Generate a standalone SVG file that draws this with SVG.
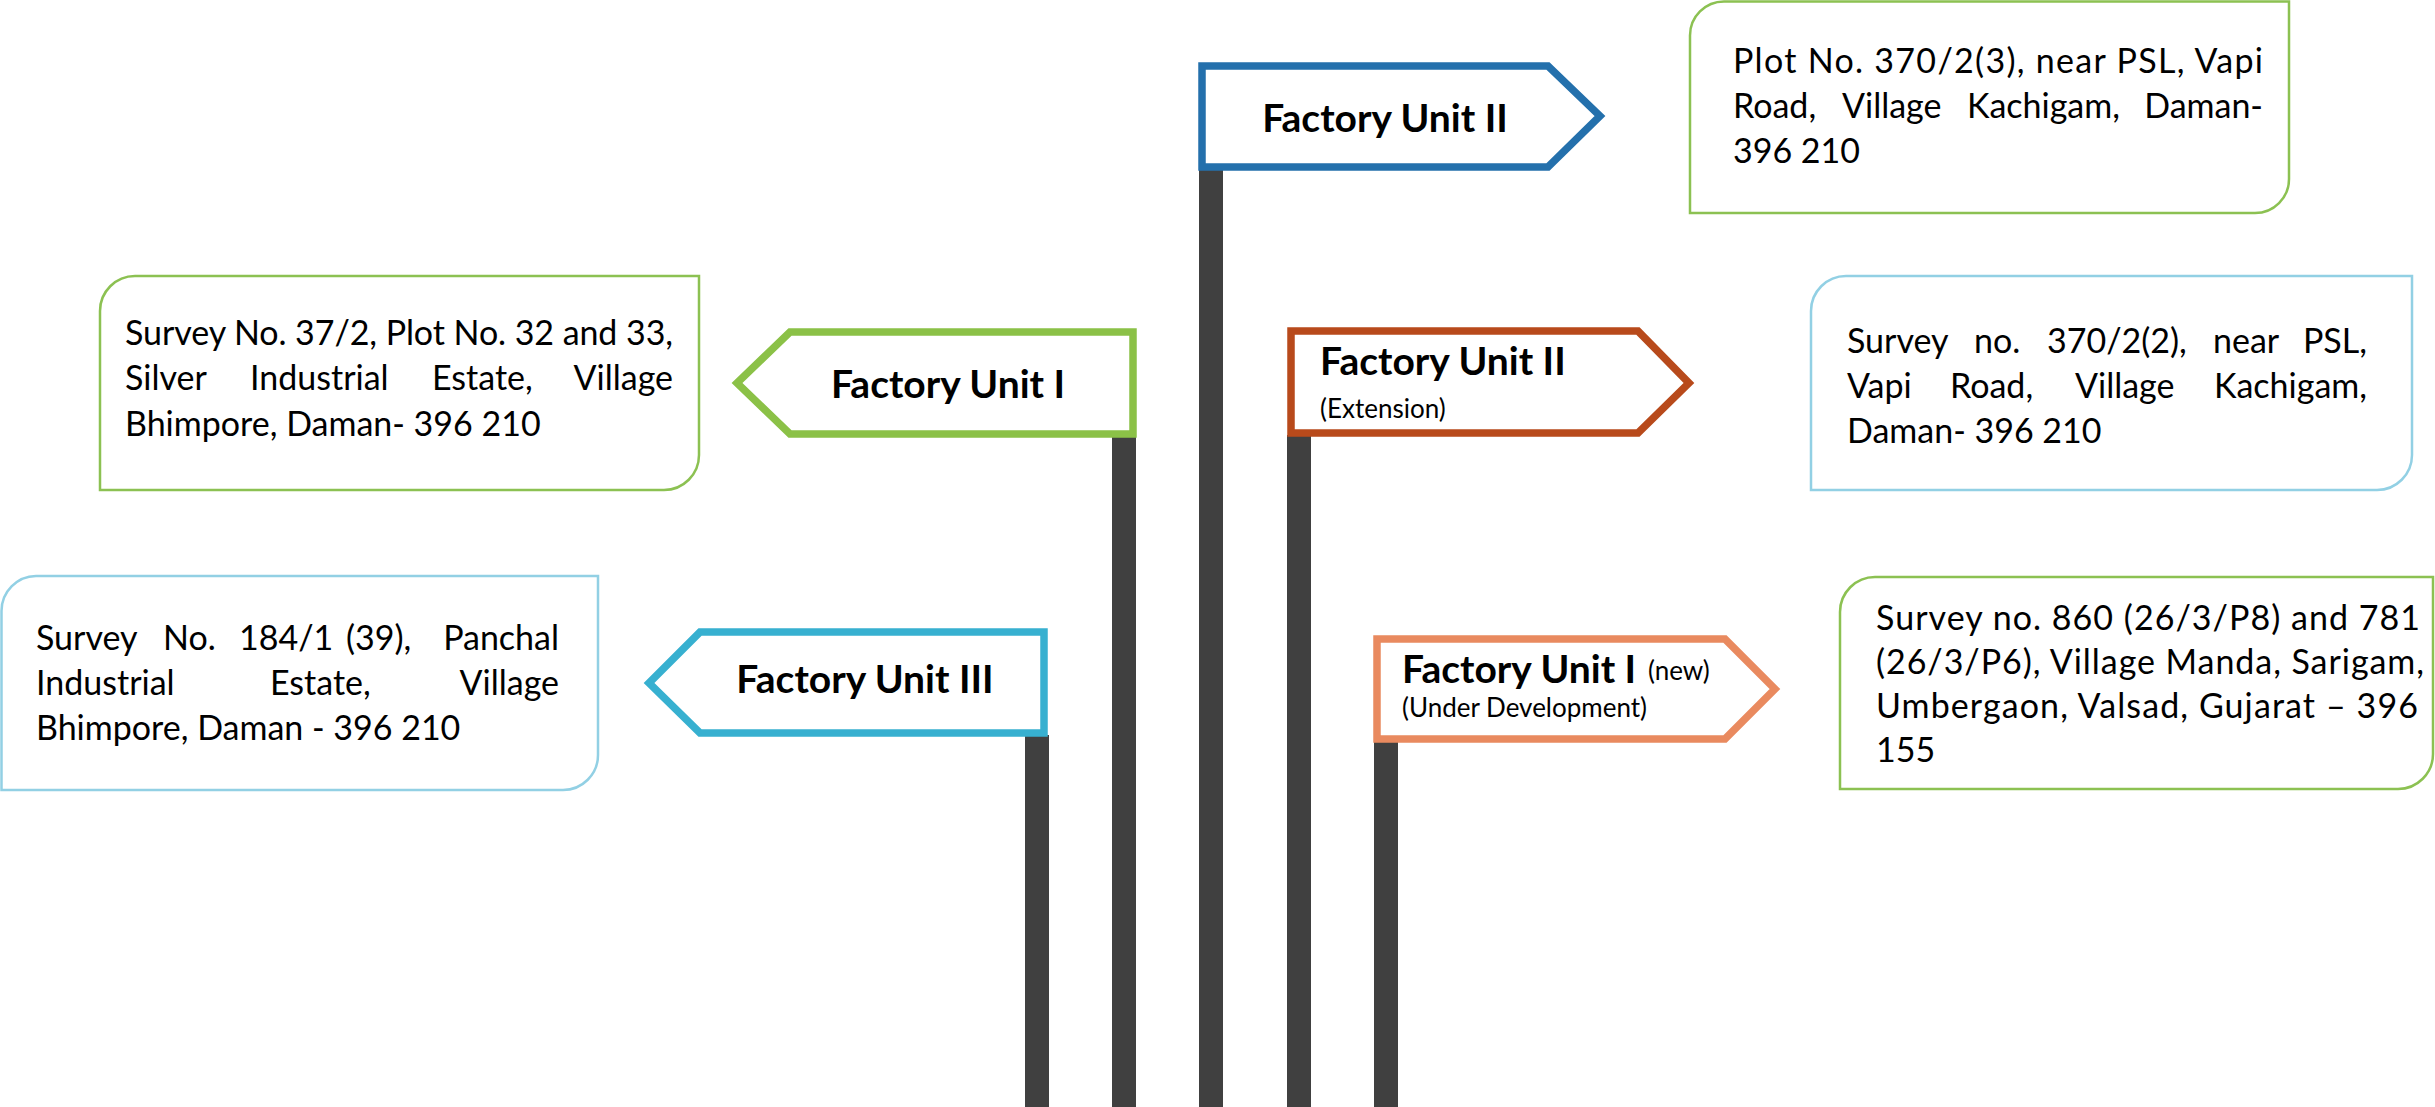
<svg xmlns="http://www.w3.org/2000/svg" width="2435" height="1107" viewBox="0 0 2435 1107">
<style>
.pole{fill:#404040}
.sign{fill:#fff;stroke-width:7.5;stroke-linejoin:miter}
.lbl{font-family:Lato,"Liberation Sans",sans-serif;font-weight:bold;font-size:39px;fill:#000}
.sub{font-family:Lato,"Liberation Sans",sans-serif;font-size:26px;fill:#000}
.box{fill:#fff;stroke-width:2.5}
.g{stroke:#8CC152}
.c{stroke:#92D0E4}
.addr{font-family:Lato,"Liberation Sans",sans-serif;font-size:34px;fill:#000}
.e{text-anchor:end}
</style>
<rect width="2435" height="1107" fill="#fff"/>
<g id="poles">
<rect class="pole" x="1025" y="735" width="24" height="372"/>
<rect class="pole" x="1112" y="436" width="24" height="671"/>
<rect class="pole" x="1199" y="168" width="24" height="939"/>
<rect class="pole" x="1287" y="435" width="24" height="672"/>
<rect class="pole" x="1374" y="741" width="24" height="366"/>
</g>
<g id="unit2">
<polygon class="sign" stroke="#2470AC" points="1202,66 1548,66 1600,116 1548,167 1202,167"/>
<text class="lbl" x="1385" y="132" text-anchor="middle">Factory Unit II</text>
</g>
<g id="unit1">
<polygon class="sign" stroke="#8BC147" points="1133,332 790,332 737,383 790,434 1133,434"/>
<text class="lbl" x="948" y="398" text-anchor="middle">Factory Unit I</text>
</g>
<g id="unit2ext">
<polygon class="sign" stroke="#B84A1B" points="1291,331 1638,331 1689,383 1638,433 1291,433"/>
<text class="lbl" x="1320" y="375">Factory Unit II</text>
<text class="sub" x="1320" y="418">(Extension)</text>
</g>
<g id="unit3">
<polygon class="sign" stroke="#37B0D0" points="1044,632 700,632 649,683 700,733 1044,733"/>
<text class="lbl" x="865" y="693" text-anchor="middle">Factory Unit III</text>
</g>
<g id="unit1new">
<polygon class="sign" stroke="#E98A5F" points="1377,639 1725,639 1775,689 1725,739 1377,739"/>
<text class="lbl" x="1402" y="683">Factory Unit I</text>
<text class="sub" x="1648" y="680">(new)</text>
<text class="sub" x="1402" y="717">(Under Development)</text>
</g>
<g id="addr-unit2">
<path class="box g" d="M1724,1.5 H2289 V179 A34,34 0 0 1 2255,213 H1690 V35.5 A34,34 0 0 1 1724,1.5 Z"/>
<text class="addr" x="1733" y="73" textLength="530" lengthAdjust="spacing">Plot No. 370/2(3), near PSL, Vapi</text>
<text class="addr" y="118"><tspan x="1733">Road,</tspan><tspan x="1842">Village</tspan><tspan x="1967">Kachigam,</tspan></text>
<text class="addr e" x="2263" y="118">Daman-</text>
<text class="addr" x="1733" y="163">396 210</text>
</g>
<g id="addr-unit1">
<path class="box g" d="M135,276 H699 V455 A35,35 0 0 1 664,490 H100 V311 A35,35 0 0 1 135,276 Z"/>
<text class="addr" x="125" y="345" textLength="548" lengthAdjust="spacing">Survey No. 37/2, Plot No. 32 and 33,</text>
<text class="addr" y="390"><tspan x="125">Silver</tspan><tspan x="250">Industrial</tspan><tspan x="432">Estate,</tspan></text>
<text class="addr e" x="673" y="390">Village</text>
<text class="addr" x="125" y="436">Bhimpore, Daman- 396 210</text>
</g>
<g id="addr-unit2ext">
<path class="box c" d="M1846,276 H2412 V455 A35,35 0 0 1 2377,490 H1811 V311 A35,35 0 0 1 1846,276 Z"/>
<text class="addr" y="353"><tspan x="1847">Survey</tspan><tspan x="1974">no.</tspan><tspan x="2047">370/2(2),</tspan><tspan x="2213">near</tspan></text>
<text class="addr e" x="2367" y="353">PSL,</text>
<text class="addr" y="398"><tspan x="1847">Vapi</tspan><tspan x="1950">Road,</tspan><tspan x="2075">Village</tspan></text>
<text class="addr e" x="2367" y="398">Kachigam,</text>
<text class="addr" x="1847" y="443">Daman- 396 210</text>
</g>
<g id="addr-unit3">
<path class="box c" d="M36,576 H598 V755 A35,35 0 0 1 563,790 H1.5 V611 A35,35 0 0 1 36,576 Z"/>
<text class="addr" y="650"><tspan x="36">Survey</tspan><tspan x="163">No.</tspan><tspan x="239">184/1</tspan><tspan x="346">(39),</tspan></text>
<text class="addr e" x="559" y="650">Panchal</text>
<text class="addr" y="695"><tspan x="36">Industrial</tspan><tspan x="270">Estate,</tspan></text>
<text class="addr e" x="559" y="695">Village</text>
<text class="addr" x="36" y="740">Bhimpore, Daman - 396 210</text>
</g>
<g id="addr-unit1new">
<path class="box g" d="M1875,577 H2433 V754 A35,35 0 0 1 2398,789 H1840 V612 A35,35 0 0 1 1875,577 Z"/>
<text class="addr" x="1876" y="630" textLength="544" lengthAdjust="spacing">Survey no. 860 (26/3/P8) and 781</text>
<text class="addr" x="1876" y="674" textLength="548" lengthAdjust="spacing">(26/3/P6), Village Manda, Sarigam,</text>
<text class="addr" x="1876" y="718" textLength="542" lengthAdjust="spacing">Umbergaon, Valsad, Gujarat – 396</text>
<text class="addr" x="1876" y="762">155</text>
</g>
</svg>
